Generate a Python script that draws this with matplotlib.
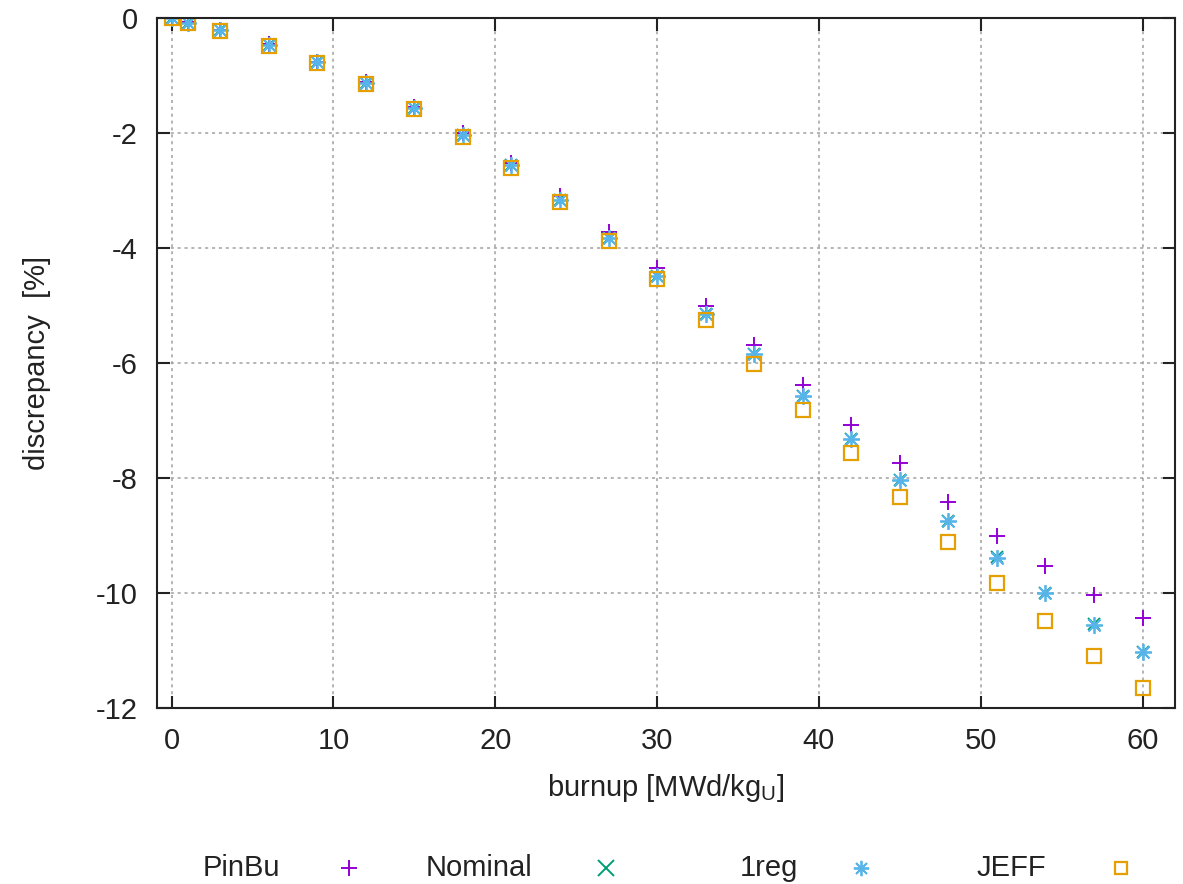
import numpy as np
import matplotlib
matplotlib.use('Agg')
import matplotlib.pyplot as plt
from matplotlib.lines import Line2D

plt.rcParams['font.family'] = ['Liberation Sans', 'DejaVu Sans']
plt.rcParams['axes.unicode_minus'] = False

burnup = [0, 1, 3, 6, 9, 12, 15, 18, 21, 24, 27, 30, 33, 36, 39, 42, 45, 48, 51, 54, 57, 60]

pinbu = [0.0, -0.07, -0.2, -0.46, -0.76, -1.12, -1.55, -2.0, -2.52, -3.1, -3.72, -4.35,
         -5.0, -5.69, -6.38, -7.08, -7.74, -8.42, -9.01, -9.53, -10.03, -10.43]
nominal = [0.0, -0.08, -0.21, -0.47, -0.77, -1.13, -1.56, -2.04, -2.56, -3.16, -3.82, -4.48,
           -5.14, -5.85, -6.57, -7.32, -8.03, -8.75, -9.37, -10.0, -10.54, -11.03]
onereg = [0.0, -0.08, -0.21, -0.47, -0.77, -1.13, -1.56, -2.04, -2.56, -3.16, -3.82, -4.48,
          -5.14, -5.85, -6.57, -7.32, -8.03, -8.75, -9.39, -10.0, -10.56, -11.03]
jeff = [0.0, -0.09, -0.22, -0.49, -0.79, -1.15, -1.58, -2.07, -2.6, -3.2, -3.88, -4.54,
        -5.25, -6.02, -6.82, -7.57, -8.33, -9.11, -9.83, -10.49, -11.1, -11.65]

series = [
    ('PinBu', pinbu, '#9400d3', dict(marker='+', markersize=12, markeredgewidth=1.4)),
    ('Nominal', nominal, '#009e73', dict(marker='x', markersize=9, markeredgewidth=1.4)),
    ('1reg', onereg, '#56b4e9', dict(marker=(8, 2, 0), markersize=12, markeredgewidth=1.3)),
    ('JEFF', jeff, '#e69f00', dict(marker='s', markersize=10, markeredgewidth=1.6,
                                   markerfacecolor='none')),
]

fig = plt.figure(figsize=(11.83, 8.84), dpi=100)
ax = fig.add_axes([0.1327, 0.1991, 0.8605, 0.7805])

for name, vals, col, mk in series:
    ax.plot(burnup, vals, linestyle='none', color=col, markeredgecolor=col, **mk)

ax.set_xlim(-0.9, 62)
ax.set_ylim(-12, 0)
ax.set_xticks(np.arange(0, 61, 10))
ax.set_yticks(np.arange(-12, 1, 2))
ax.grid(True, color='#a0a0a0', linestyle=(0, (2, 2.5)), linewidth=1.1)
ax.set_axisbelow(True)

for sp in ax.spines.values():
    sp.set_linewidth(1.5)
    sp.set_color('#222222')

ax.tick_params(direction='in', length=9, width=1.5, top=True, right=True,
               labelsize=21, colors='#222222', pad=14)
ax.tick_params(axis='x', pad=14)

ax.set_xlabel('burnup [MWd/kg$_{\\mathregular{U}}$]', fontsize=21, color='#222222', labelpad=12)
ax.set_ylabel('discrepancy  [%]', fontsize=21, color='#222222', labelpad=32)

# key row below the plot: label followed by its marker
text_x = [0.204, 0.405, 0.650, 0.855]
mark_x = [0.295, 0.512, 0.728, 0.948]
key_sizes = [11, 11, 11, 8.5]
key_y = 1 - 868 / 884
for (name, vals, col, mk), tx, mx, ks in zip(series, text_x, mark_x, key_sizes):
    fig.text(tx, key_y, name, fontsize=21, color='#222222', ha='center', va='center')
    kw = dict(mk)
    kw['markersize'] = ks
    fig.add_artist(Line2D([mx], [key_y], transform=fig.transFigure, linestyle='none',
                          color=col, markeredgecolor=col, **kw))

fig.savefig('out.png', dpi=100)
